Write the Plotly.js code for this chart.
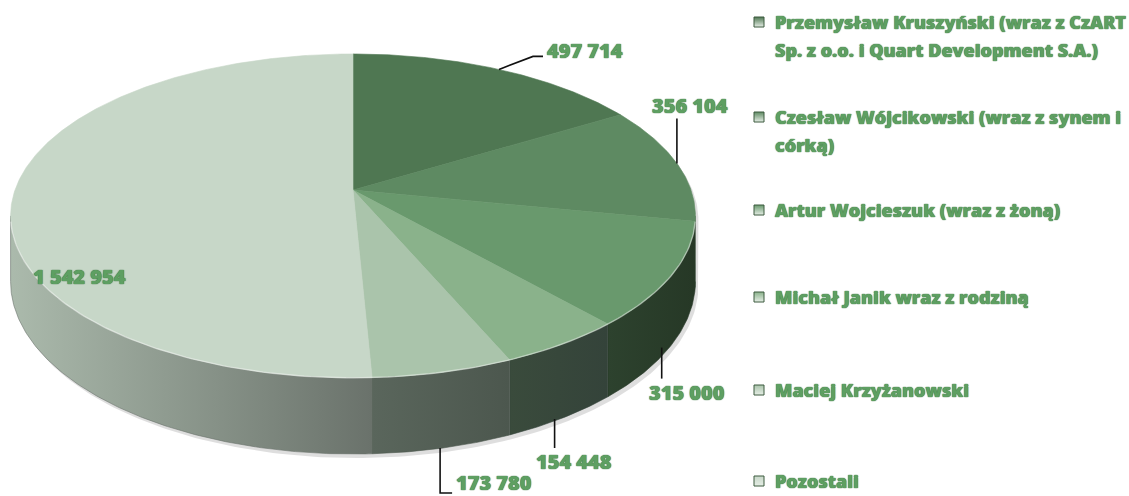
<!DOCTYPE html>
<html>
<head>
<meta charset="utf-8">
<script src="https://cdn.plot.ly/plotly-3.0.1.min.js"></script>
<style>
  html, body { margin: 0; padding: 0; background: #ffffff; }
  #chart { width: 1129px; height: 496px; }
</style>
</head>
<body>
<div id="chart"></div>
<script>
// ---------------- DATA ----------------
const categories = [
  "Przemysław Kruszyński (wraz z CzART Sp. z o.o. i Quart Development S.A.)",
  "Czesław Wójcikowski (wraz z synem i córką)",
  "Artur Wojcieszuk (wraz z żoną)",
  "Michał Janik wraz z rodziną",
  "Maciej Krzyżanowski",
  "Pozostali"
];
const values = [497714, 356104, 315000, 154448, 173780, 1542954];
const legendLines = [
  ["Przemysław Kruszyński (wraz z CzART", "Sp. z o.o. i Quart Development S.A.)"],
  ["Czesław Wójcikowski (wraz z synem i", "córką)"],
  ["Artur Wojcieszuk (wraz z żoną)"],
  ["Michał Janik wraz z rodziną"],
  ["Maciej Krzyżanowski"],
  ["Pozostali"]
];

// ---------------- STYLE ----------------
const topColors  = ["#4f7752", "#5e8a62", "#69996d", "#8ab28b", "#aac4ab", "#c7d7c8"];
const sideGrad   = [
  ["#2c422e", "#2c422e"],
  ["#2e452f", "#2e452f"],
  ["#2d422e", "#263826"],
  ["#3a4b3c", "#34433a"],
  ["#5a665c", "#4c574e"],
  ["#abbaac", "#6a726b"]
];
const legendColors = topColors;
const textGreen = "#5e9f62";
const FONT = "'Open Sans', Lato, 'DejaVu Sans', sans-serif";
const SHADOW = "0px 0px 1px #3d7540, 0px 0px 1px #3d7540";

// ---------------- GEOMETRY (3D perspective pie) ----------------
const cx = 353, cy = 190, A = 338, B = 157.8, K = 0.16, H = 64;
function proj(thetaDeg, depth) {
  const t = thetaDeg * Math.PI / 180;
  const u = Math.sin(t), v = Math.cos(t);
  const d = 1 + K * v;
  return [cx + A * u / d, cy - B * v / d + depth / d];
}
function arc(a0, a1, depth, step) {
  const xs = [], ys = [];
  const n = Math.max(2, Math.ceil(Math.abs(a1 - a0) / (step || 0.5)));
  for (let i = 0; i <= n; i++) {
    const a = a0 + (a1 - a0) * i / n;
    const p = proj(a, depth);
    xs.push(p[0]); ys.push(p[1]);
  }
  return [xs, ys];
}

const total = values.reduce((s, v) => s + v, 0);
const bounds = [0];
values.forEach(v => bounds.push(bounds[bounds.length - 1] + v / total * 360));

const visL = Math.acos(-K) * 180 / Math.PI;   // right-front silhouette
const visR = 360 - visL;                     // left-front silhouette

const traces = [];

// soft shadow of the whole solid
(function () {
  const back = arc(visR, 360 + visL, 0, 1);
  const front = arc(visL, visR, H, 1);
  const xs = back[0].concat(front[0]).map(x => x + 3);
  const ys = back[1].concat(front[1]).map(y => y + 4);
  traces.push({type: "scatter", mode: "lines", x: xs, y: ys, fill: "toself",
    fillcolor: "rgba(0,0,0,0.13)", line: {width: 0, color: "rgba(0,0,0,0)"},
    hoverinfo: "skip", showlegend: false});
})();

// sides
values.forEach((v, i) => {
  const a = Math.max(bounds[i], visL), b = Math.min(bounds[i + 1], visR);
  if (b <= a) return;
  const top = arc(a, b, 0, 0.5);
  const bot = arc(b, a, H, 0.5);
  const xs = top[0].concat(bot[0]), ys = top[1].concat(bot[1]);
  const xmin = Math.min(...xs), xmax = Math.max(...xs);
  traces.push({type: "scatter", mode: "lines", x: xs, y: ys, fill: "toself",
    fillcolor: sideGrad[i][0],
    fillgradient: {type: "horizontal", start: xmin, stop: xmax,
      colorscale: [[0, sideGrad[i][0]], [1, sideGrad[i][1]]]},
    line: {width: 0.6, color: sideGrad[i][1]},
    hoverinfo: "skip", showlegend: false});
});

// top faces
values.forEach((v, i) => {
  const ar = arc(bounds[i], bounds[i + 1], 0, 0.5);
  const xs = [cx].concat(ar[0]).concat([cx]);
  const ys = [cy].concat(ar[1]).concat([cy]);
  traces.push({type: "scatter", mode: "lines", x: xs, y: ys, fill: "toself",
    fillcolor: topColors[i], line: {width: 0.6, color: topColors[i]},
    name: categories[i], hoverinfo: "name", showlegend: false});
});

// light rim on the front edge of the top face
(function () {
  const r = arc(visL + 2, visR - 2, 0, 1);
  traces.push({type: "scatter", mode: "lines", x: r[0], y: r[1],
    line: {width: 1.4, color: "rgba(255,255,255,0.45)"},
    hoverinfo: "skip", showlegend: false});
})();

// ---------------- DATA LABELS ----------------
function fmt(n) { return String(n).replace(/\B(?=(\d{3})+(?!\d))/g, " "); }
const mid = values.map((v, i) => (bounds[i] + bounds[i + 1]) / 2);
const annotations = [];
const shapes = [];
const lblFont = {family: FONT, size: 20, color: textGreen, weight: 800, shadow: SHADOW};

function leader(pts) {
  let path = "M" + pts.map(p => p[0].toFixed(1) + "," + p[1].toFixed(1)).join(" L");
  shapes.push({type: "path", xref: "x", yref: "y", path: path,
    line: {color: "#111111", width: 1.6}});
}
// slice 0
(function () {
  const p = proj(mid[0], 0);
  leader([p, [p[0] + 34, p[1] - 13], [p[0] + 44, p[1] - 13]]);
  annotations.push({x: p[0] + 46, y: p[1] - 19, xanchor: "left", yanchor: "middle",
    text: fmt(values[0]), showarrow: false, font: lblFont});
})();
// slice 1
(function () {
  const p = proj(mid[1], 0);
  leader([p, [p[0], p[1] - 45]]);
  annotations.push({x: p[0] + 13, y: p[1] - 58, xanchor: "center", yanchor: "middle",
    text: fmt(values[1]), showarrow: false, font: lblFont});
})();
// slice 2
(function () {
  const p = proj(mid[2], H);
  leader([[p[0] - 10, p[1] + 3], [p[0] - 10, p[1] + 34]]);
  annotations.push({x: p[0] + 15, y: p[1] + 48, xanchor: "center", yanchor: "middle",
    text: fmt(values[2]), showarrow: false, font: lblFont});
})();
// slice 3
(function () {
  const p = proj(mid[3], H);
  leader([[p[0] - 8, p[1] + 1], [p[0] - 8, p[1] + 30]]);
  annotations.push({x: p[0] + 11, y: p[1] + 44, xanchor: "center", yanchor: "middle",
    text: fmt(values[3]), showarrow: false, font: lblFont});
})();
// slice 4
(function () {
  const p = proj(mid[4], H);
  leader([[p[0] - 3, p[1]], [p[0] - 3, p[1] + 45], [p[0] + 9, p[1] + 45]]);
  annotations.push({x: p[0] + 11, y: p[1] + 35, xanchor: "left", yanchor: "middle",
    text: fmt(values[4]), showarrow: false, font: lblFont});
})();
// slice 5 (inside)
(function () {
  annotations.push({x: 79, y: 276, xanchor: "center", yanchor: "middle",
    text: fmt(values[5]), showarrow: false, font: lblFont});
})();

// ---------------- LEGEND (manual) ----------------
const legRowY = [22, 117, 210, 297, 390, 481];
const legLineGap = 28;
const legFont = {family: FONT, size: 18, color: textGreen, weight: 800, shadow: SHADOW};
legendLines.forEach((lines, i) => {
  lines.forEach((ln, j) => {
    annotations.push({x: 773, y: legRowY[i] + j * legLineGap, xanchor: "left", yanchor: "middle",
      text: ln, showarrow: false, font: legFont});
  });
});
traces.push({type: "scatter", mode: "markers",
  x: legendLines.map(() => 759), y: legRowY,
  marker: {symbol: "square", size: 10, color: legendColors,
    gradient: {type: "vertical", color: "#e6eee6"},
    line: {color: "#3d5a3f", width: 1}},
  text: categories, hoverinfo: "text", showlegend: false});

const layout = {
  width: 1129, height: 496,
  margin: {l: 0, r: 0, t: 0, b: 0},
  paper_bgcolor: "#ffffff", plot_bgcolor: "#ffffff",
  xaxis: {range: [0, 1129], visible: false, fixedrange: true},
  yaxis: {range: [496, 0], visible: false, fixedrange: true},
  showlegend: false,
  annotations: annotations,
  shapes: shapes
};

Plotly.newPlot("chart", traces, layout, {displayModeBar: false, staticPlot: true});
</script>
</body>
</html>
